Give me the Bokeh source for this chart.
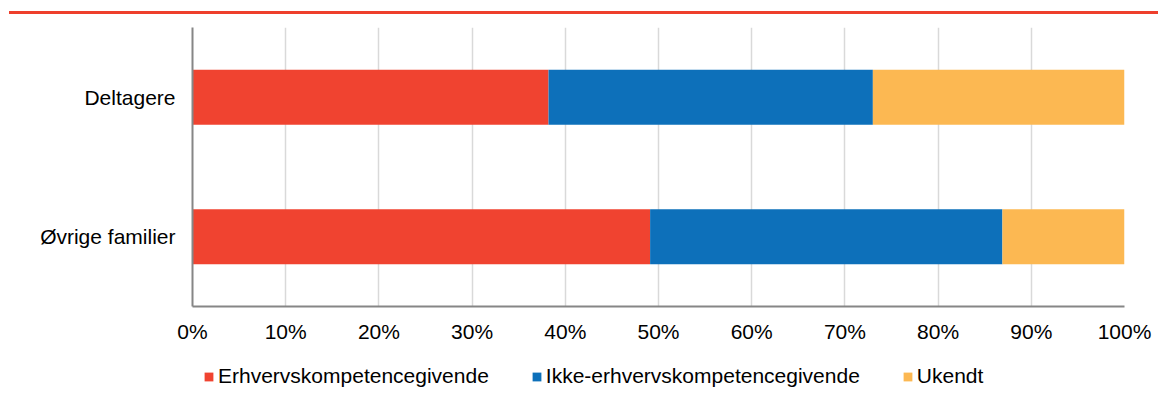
from bokeh.plotting import figure
from bokeh.models import (ColumnDataSource, FactorRange, Range1d, Legend, LegendItem,
                          NumeralTickFormatter, FixedTicker, Spacer)
from bokeh.layouts import column, row
from bokeh.embed import file_html
from bokeh.resources import INLINE

# ---- data ----
categories = ["Øvrige familier", "Deltagere"]
series_names = ["Erhvervskompetencegivende", "Ikke-erhvervskompetencegivende", "Ukendt"]
erhverv = [0.491, 0.382]
ikke_erhverv = [0.378, 0.348]
ukendt = [0.131, 0.270]
x_ticks = [0.0, 0.1, 0.2, 0.3, 0.4, 0.5, 0.6, 0.7, 0.8, 0.9, 1.0]

colors = ["#F04330", "#0D70BA", "#FCB852"]
RULE = "#EE3F2C"
FONT = "Liberation Sans"
FS = "21px"
W = 1158

# ---- top red rule ----
rule = Spacer(width=W - 9, height=3, styles={"background-color": RULE})
rule_row = row(Spacer(width=9, height=3), rule, spacing=0)

# ---- main chart ----
source = ColumnDataSource(dict(cat=categories, s0=erhverv, s1=ikke_erhverv, s2=ukendt))

p = figure(width=W, height=332, output_backend="svg", toolbar_location=None,
           title=None, y_range=FactorRange(factors=categories), x_range=Range1d(0, 1),
           min_border_left=192, min_border_right=34, min_border_top=13, min_border_bottom=40)
p.outline_line_color = None
p.background_fill_color = "white"
p.border_fill_color = "white"

p.hbar_stack(["s0", "s1", "s2"], y="cat", height=0.394, color=colors,
             line_color=None, source=source)

p.xaxis.ticker = FixedTicker(ticks=x_ticks)
p.xaxis.formatter = NumeralTickFormatter(format="0%")
for ax in (p.xaxis[0], p.yaxis[0]):
    ax.axis_line_color = "#868686"
    ax.axis_line_width = 2
    ax.major_tick_line_color = None
    ax.minor_tick_line_color = None
    ax.major_tick_in = 0
    ax.major_tick_out = 0
    ax.minor_tick_in = 0
    ax.minor_tick_out = 0
    ax.major_label_text_font = FONT
    ax.major_label_text_font_size = FS
    ax.major_label_text_color = "black"
p.xaxis.major_label_standoff = 13
p.yaxis.major_label_standoff = 17

p.ygrid.grid_line_color = None
p.xgrid.ticker = FixedTicker(ticks=x_ticks)
p.xgrid.grid_line_color = "#d9d9d9"
p.xgrid.grid_line_width = 1.5

# ---- legend strip (key renderers hidden; legend shows their colours) ----
lf = figure(width=W, height=43, output_backend="svg", toolbar_location=None,
            x_axis_type=None, y_axis_type=None, x_range=Range1d(0, 1),
            y_range=FactorRange(factors=categories),
            min_border_left=192, min_border_right=34, min_border_top=0, min_border_bottom=0)
lf.outline_line_color = None
lf.background_fill_color = "white"
lf.border_fill_color = "white"
key_renderers = lf.hbar_stack(["s0", "s1", "s2"], y="cat", height=0.394, color=colors,
                              line_color=None, source=source, visible=False)
items = [LegendItem(label=n, renderers=[r]) for n, r in zip(series_names, key_renderers)]
legend = Legend(items=items, orientation="horizontal", location=(11, 1),
                glyph_width=11, glyph_height=11, label_standoff=4, spacing=42,
                padding=0, margin=0, border_line_color=None, background_fill_alpha=0,
                label_text_font=FONT, label_text_font_size=FS, label_text_color="black")
lf.add_layout(legend, "center")

layout = column(Spacer(width=W, height=11), rule_row, p, lf, spacing=0)

open("out.html", "w").write(file_html(layout, INLINE))
